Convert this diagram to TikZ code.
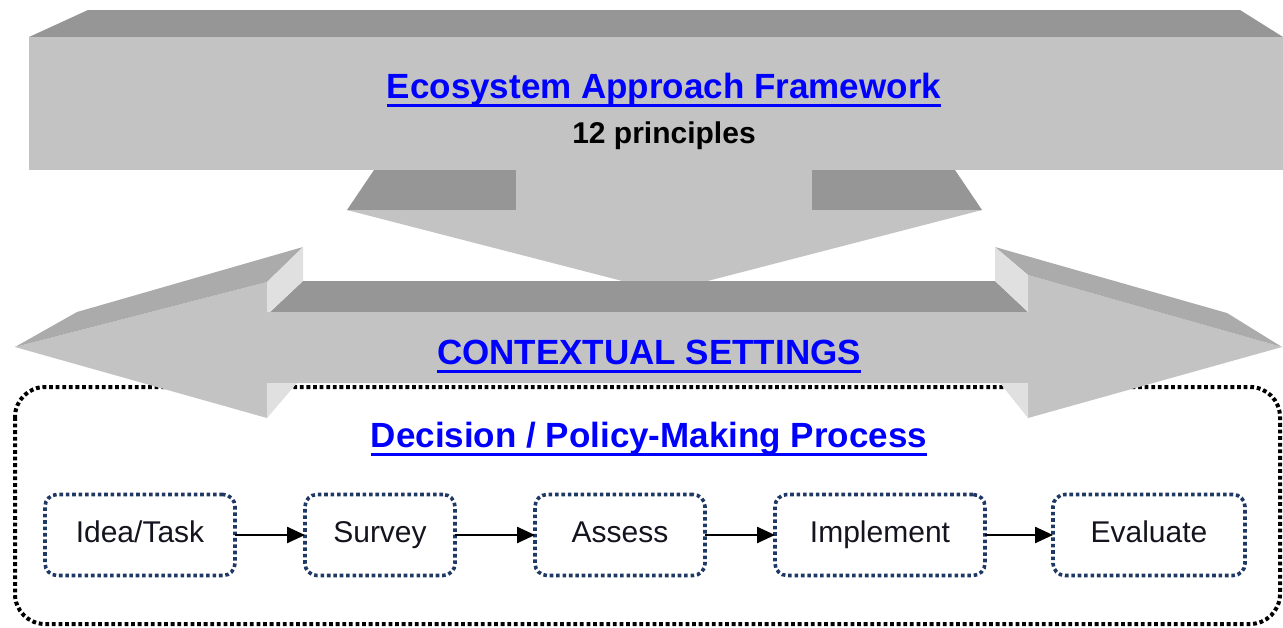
\documentclass[tikz,border=0pt]{standalone}
\usepackage{fontspec}
\setmainfont{Liberation Sans}
\usetikzlibrary{arrows.meta}
\definecolor{facegray}{RGB}{195,195,195}
\definecolor{topgray}{RGB}{150,150,150}
\definecolor{bevelgray}{RGB}{171,171,171}
\definecolor{sidegray}{RGB}{224,224,224}
\definecolor{stepnavy}{RGB}{31,56,100}
\definecolor{steptext}{RGB}{20,20,30}
\newcommand{\ulinetext}[1]{\setbox0\hbox{#1}\rlap{\rule[-8.5pt]{\wd0}{3pt}}\box0}
\begin{document}
\begin{tikzpicture}[x=1pt,y=-1pt,every node/.style={inner sep=0pt, outer sep=0pt},
  headline/.style={text=blue, font=\bfseries\fontsize{35}{42}\selectfont, anchor=base},
  stagebox/.style={draw=stepnavy, line width=3.6pt, dash pattern=on 3.6pt off 2.8pt, rounded corners=12pt, minimum height=81pt, text height=21.5pt, text depth=6pt, font=\fontsize{30}{36}\selectfont, text=steptext},
  link/.style={line width=2.5pt, -{Triangle[length=18pt,width=16pt]}}]
\useasboundingbox (0,0) rectangle (1283,627);
% dotted frame of the process
\draw[line width=4pt, dash pattern=on 3.8pt off 2.8pt, rounded corners=30pt] (15,387) rectangle (1280,624);
% down arrow
\fill[topgray] (374,170) -- (955,170) -- (982,210) -- (347,210) -- cycle;
\fill[facegray] (516,160) rectangle (812,211);
\fill[facegray] (347,210) -- (982,210) -- (665,292) -- cycle;
% framework block
\fill[topgray] (29,37) -- (88,10) -- (1240,10) -- (1283,37) -- cycle;
\fill[facegray] (29,37) rectangle (1283,170);
% double arrow
\fill[topgray] (303,281) -- (995,281) -- (1028,312) -- (270,312) -- cycle;
\fill[facegray] (15,347) -- (267,282) -- (267,312) -- (1028,312) -- (1028,275) -- (1282,347) -- (1028,418) -- (1028,383) -- (267,383) -- (267,418) -- cycle;
\fill[bevelgray] (15,347) -- (77,312) -- (303,247) -- (267,282) -- cycle;
\fill[bevelgray] (1282,347) -- (1227,313) -- (995,247) -- (1028,275) -- cycle;
\fill[sidegray] (267,282) -- (303,247) -- (303,281) -- (270,312) -- (267,312) -- cycle;
\fill[sidegray] (1028,275) -- (995,247) -- (995,281) -- (1028,312) -- cycle;
\fill[sidegray] (267,383) -- (297,383) -- (267,418) -- cycle;
\fill[sidegray] (1028,383) -- (1000,383) -- (1028,418) -- cycle;
% labels
\node[headline] (framework) at (664,98) {\ulinetext{Ecosystem Approach Framework}};
\node[anchor=base, font=\bfseries\fontsize{30}{36}\selectfont] (principles) at (664,143) {12 principles};
\node[headline] (context) at (649,364) {\ulinetext{CONTEXTUAL SETTINGS}};
\node[headline] (process) at (649,447) {\ulinetext{Decision / Policy-Making Process}};
% steps
\node[stagebox, minimum width=190pt] (idea) at (140,535) {Idea/Task};
\node[stagebox, minimum width=150pt] (survey) at (380,535) {Survey};
\node[stagebox, minimum width=170pt] (assess) at (620,535) {Assess};
\node[stagebox, minimum width=210pt] (implement) at (880,535) {Implement};
\node[stagebox, minimum width=192pt] (evaluate) at (1149,535) {Evaluate};
\draw[link] (idea) -- (survey);
\draw[link] (survey) -- (assess);
\draw[link] (assess) -- (implement);
\draw[link] (implement) -- (evaluate);
\end{tikzpicture}
\end{document}
